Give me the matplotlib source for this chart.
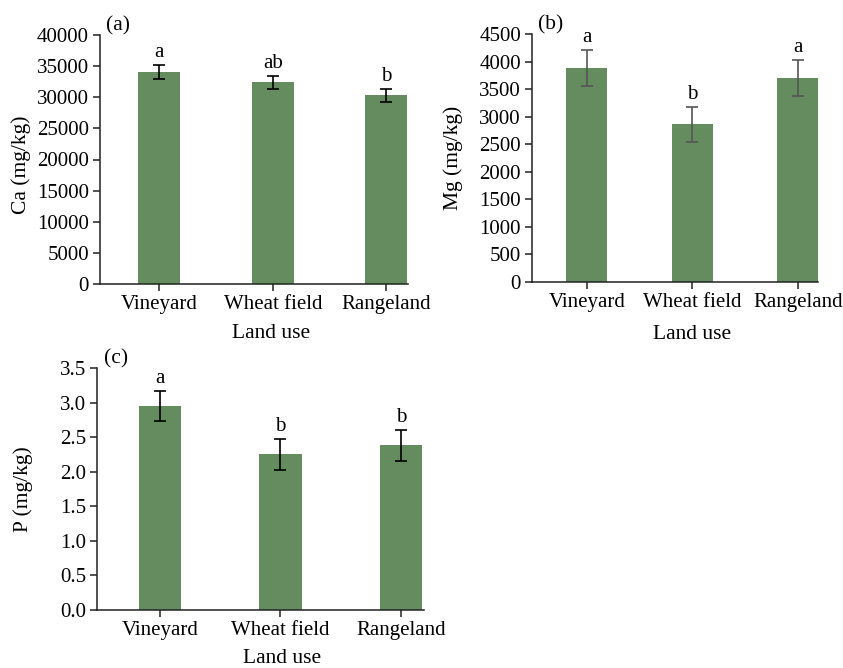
import matplotlib
matplotlib.use('Agg')
import matplotlib.pyplot as plt

plt.rcParams['font.family'] = ['Liberation Serif', 'DejaVu Serif']
plt.rcParams['font.size'] = 15

land_use = ['Vineyard', 'Wheat field', 'Rangeland']

ca_mean = [34100, 32400, 30300]
ca_err = [1100, 1050, 1100]
ca_letters = ['a', 'ab', 'b']

mg_mean = [3880, 2858, 3706]
mg_err = [325, 325, 325]
mg_letters = ['a', 'b', 'a']

p_mean = [2.95, 2.25, 2.38]
p_err = [0.22, 0.22, 0.22]
p_letters = ['a', 'b', 'b']

bar_color = '#658c5f'
W, H = 843, 668

fig = plt.figure(figsize=(W / 100, H / 100), dpi=100)


def px_axes(left, top, right, bottom):
    # axes rectangle given in pixel edges
    return fig.add_axes([left / W, 1 - bottom / H, (right - left) / W, (bottom - top) / H])


def panel(ax, means, errs, letters, ymax, step, ylabel, tag, fmt, err_color, bw):
    x = range(len(land_use))
    ax.bar(x, means, width=bw, color=bar_color, zorder=2)
    ax.errorbar(x, means, yerr=errs, fmt='none', ecolor=err_color,
                elinewidth=1.2, capsize=4.5, capthick=1.2, zorder=3)
    for i, (m, e, t) in enumerate(zip(means, errs, letters)):
        ax.annotate(t, (i, m + e), xytext=(0, 2), textcoords='offset points',
                    ha='center', va='bottom', fontsize=15)
    ax.set_xlim(-0.52, 2.19)
    ax.set_ylim(0, ymax)
    ticks = [k * step for k in range(int(round(ymax / step)) + 1)]
    ax.set_yticks(ticks)
    ax.set_yticklabels([fmt.format(t) for t in ticks])
    ax.set_xticks(list(x))
    ax.set_xticklabels(land_use)
    for s in ['top', 'right']:
        ax.spines[s].set_visible(False)
    for s in ['left', 'bottom']:
        ax.spines[s].set_linewidth(1.1)
        ax.spines[s].set_color('#222222')
    ax.tick_params(axis='both', direction='out', length=5, width=1.1,
                   color='#222222', pad=3)
    ax.set_ylabel(ylabel, fontsize=15.5)
    ax.set_xlabel('Land use', fontsize=15.5)
    ax.text(0.02, 1.0, tag, transform=ax.transAxes, ha='left', va='bottom', fontsize=15.5)


ax1 = px_axes(100, 35, 408, 284)
panel(ax1, ca_mean, ca_err, ca_letters, 40000, 5000, 'Ca (mg/kg)', '(a)', '{:d}', 'black', 0.37)
ax1.yaxis.set_label_coords(-0.225, 0.48)
ax1.xaxis.set_label_coords(0.555, -0.16)

ax2 = px_axes(532, 34, 818, 282)
panel(ax2, mg_mean, mg_err, mg_letters, 4500, 500, 'Mg (mg/kg)', '(b)', '{:d}', '#555555', 0.39)
ax2.yaxis.set_label_coords(-0.24, 0.5)
ax2.xaxis.set_label_coords(0.56, -0.172)

ax3 = px_axes(97, 368, 424, 610)
panel(ax3, p_mean, p_err, p_letters, 3.5, 0.5, 'P (mg/kg)', '(c)', '{:.1f}', 'black', 0.35)
ax3.yaxis.set_label_coords(-0.196, 0.5)
ax3.xaxis.set_label_coords(0.566, -0.162)

fig.savefig('out.png', dpi=100)
